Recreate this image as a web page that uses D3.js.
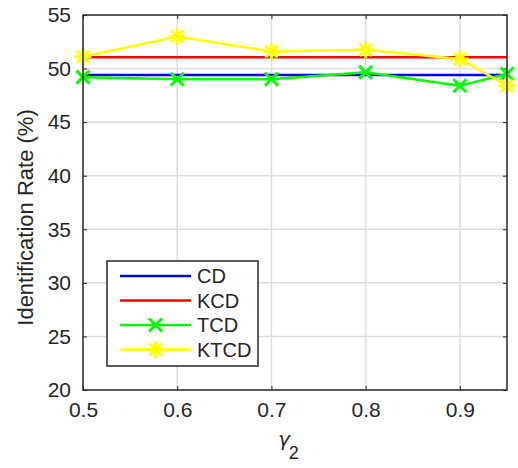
<!DOCTYPE html>
<html>
<head>
<meta charset="utf-8">
<script src="https://cdn.jsdelivr.net/npm/d3@7"></script>
<style>
  body { margin: 0; background: #fff; }
  text { font-family: "Liberation Sans", Arial, Helvetica, sans-serif; fill: #262626; }
</style>
</head>
<body>
<svg id="chart" width="518" height="468"></svg>
<script>
// Identification rate vs. gamma_2
const gammas = [0.5, 0.6, 0.7, 0.8, 0.9, 0.95];
const cdValues = [49.4, 49.4, 49.4, 49.4, 49.4, 49.4];
const kcdValues = [51.05, 51.05, 51.05, 51.05, 51.05, 51.05];
const tcdValues = [49.2, 49.0, 49.0, 49.65, 48.4, 49.5];
const ktcdValues = [51.1, 53.0, 51.6, 51.75, 50.9, 48.4];
const xTicks = [0.5, 0.6, 0.7, 0.8, 0.9];
const yTicks = [20, 25, 30, 35, 40, 45, 50, 55];

const series = [
  { name: "CD", values: cdValues, color: "#0000ff", marker: null },
  { name: "KCD", values: kcdValues, color: "#ff0000", marker: null },
  { name: "TCD", values: tcdValues, color: "#00ff00", marker: "x" },
  { name: "KTCD", values: ktcdValues, color: "#ffff00", marker: "star" }
];

const svg = d3.select("#chart");
const m = { left: 83, right: 11, top: 15, bottom: 78 };
const W = 518, H = 468;
const x = d3.scaleLinear().domain([0.5, 0.95]).range([m.left, W - m.right]);
const y = d3.scaleLinear().domain([20, 55]).range([H - m.bottom, m.top]);

const axisColor = "#262626";
const gridColor = "#dedede";
const sans = '"Liberation Sans", Arial, sans-serif';

// grid
const grid = svg.append("g");
grid.selectAll(".gx").data(xTicks.slice(1)).join("line")
  .attr("x1", d => x(d)).attr("x2", d => x(d))
  .attr("y1", y(20)).attr("y2", y(55))
  .attr("stroke", gridColor).attr("stroke-width", 1.5);
grid.selectAll(".gy").data(yTicks.slice(1, -1)).join("line")
  .attr("x1", x(0.5)).attr("x2", x(0.95))
  .attr("y1", d => y(d)).attr("y2", d => y(d))
  .attr("stroke", gridColor).attr("stroke-width", 1.5);

// axes (ticks inward, box on)
function styleAxis(g) {
  g.select(".domain").remove();
  g.selectAll(".tick line").attr("stroke", axisColor).attr("stroke-width", 1);
  g.selectAll(".tick text").attr("fill", axisColor).style("font-size", "21px")
    .style("font-family", sans);
}
svg.append("g").attr("transform", `translate(0,${y(20)})`)
  .call(d3.axisBottom(x).tickValues(xTicks).tickFormat(d3.format(".1f")).tickSizeInner(-4).tickPadding(12))
  .call(styleAxis);
svg.append("g").attr("transform", `translate(0,${y(55)})`)
  .call(d3.axisTop(x).tickValues(xTicks).tickFormat("").tickSizeInner(-4))
  .call(styleAxis);
svg.append("g").attr("transform", `translate(${x(0.5)},0)`)
  .call(d3.axisLeft(y).tickValues(yTicks).tickFormat(d3.format("d")).tickSizeInner(-4).tickPadding(12))
  .call(styleAxis);
svg.append("g").attr("transform", `translate(${x(0.95)},0)`)
  .call(d3.axisRight(y).tickValues(yTicks).tickFormat("").tickSizeInner(-4))
  .call(styleAxis);

// lines
const line = d3.line().x((d, i) => x(gammas[i])).y(d => y(d));
const plot = svg.append("g");

function drawMarker(g, type, cx, cy, color) {
  if (type === "x") {
    const r = 6.5;
    g.append("path")
      .attr("d", `M${cx - r},${cy - r}L${cx + r},${cy + r}M${cx - r},${cy + r}L${cx + r},${cy - r}`)
      .attr("stroke", color).attr("stroke-width", 3).attr("fill", "none");
  } else if (type === "star") {
    const r = 8.5;
    const d = r * 0.707;
    g.append("path")
      .attr("d", `M${cx - r},${cy}L${cx + r},${cy}M${cx},${cy - r}L${cx},${cy + r}` +
        `M${cx - d},${cy - d}L${cx + d},${cy + d}M${cx - d},${cy + d}L${cx + d},${cy - d}`)
      .attr("stroke", color).attr("stroke-width", 3).attr("fill", "none");
  }
}

series.forEach(s => {
  plot.append("path").datum(s.values)
    .attr("d", line).attr("fill", "none")
    .attr("stroke", s.color).attr("stroke-width", 2.5);
  if (s.marker) {
    s.values.forEach((v, i) => drawMarker(plot, s.marker, x(gammas[i]), y(v), s.color));
  }
});

// box
svg.append("rect")
  .attr("x", x(0.5)).attr("y", y(55))
  .attr("width", x(0.95) - x(0.5)).attr("height", y(20) - y(55))
  .attr("fill", "none").attr("stroke", axisColor).attr("stroke-width", 1.5);

// axis titles
svg.append("text")
  .attr("transform", `translate(33,${(y(20) + y(55)) / 2 + 15}) rotate(-90)`)
  .attr("text-anchor", "middle").style("font-size", "22px")
  .text("Identification Rate (%)");
const xl = svg.append("text")
  .attr("x", 278).attr("y", 446)
  .style("font-family", '"DejaVu Sans", sans-serif').style("font-size", "20px");
xl.append("tspan").style("font-style", "italic").text("γ");
xl.append("tspan").attr("dy", 13).attr("dx", -1).style("font-family", sans).style("font-size", "18px").text("2");

// legend
const lg = svg.append("g").attr("transform", "translate(107,261)");
lg.append("rect").attr("width", 151).attr("height", 105)
  .attr("fill", "#fff").attr("stroke", axisColor).attr("stroke-width", 1.5);
series.forEach((s, i) => {
  const ry = 15 + i * 24.5;
  lg.append("line").attr("x1", 13).attr("x2", 84).attr("y1", ry).attr("y2", ry)
    .attr("stroke", s.color).attr("stroke-width", 2.5);
  if (s.marker) drawMarker(lg, s.marker, 48.5, ry, s.color);
  lg.append("text").attr("x", 90).attr("y", ry + 7)
    .style("font-size", "20px").attr("fill", "#000").text(s.name);
});
</script>
</body>
</html>
